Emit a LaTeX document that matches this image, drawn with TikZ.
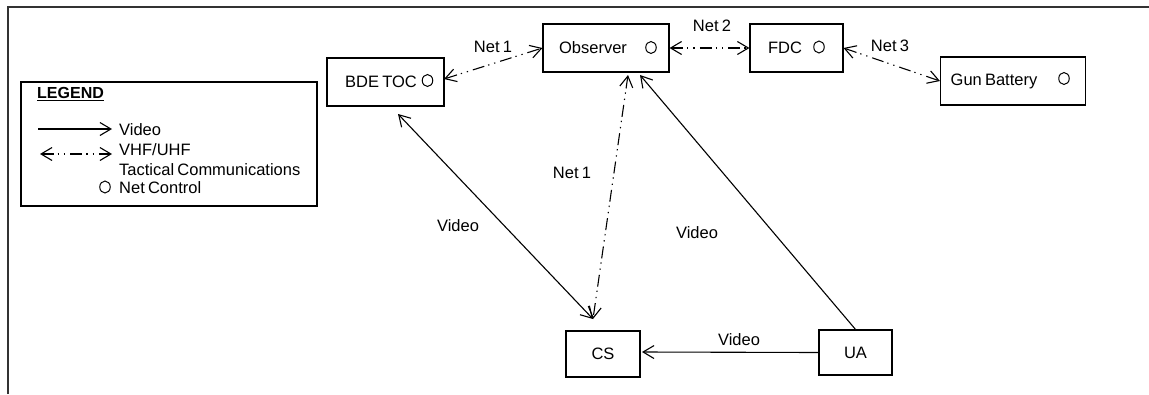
\documentclass[tikz,border=0pt]{standalone}
\usepackage{fontspec}
\setmainfont{Liberation Sans}
\usetikzlibrary{arrows.meta,shapes.geometric}
\newcommand\diagfont{\fontsize{16.5}{19}\selectfont}
\newcommand\tightword{\spaceskip=3.2pt plus 1pt minus 1pt\relax}
\begin{document}
\begin{tikzpicture}[x=1pt,y=-1pt,
  font=\diagfont,
  box/.style={draw,line width=1.1pt,inner sep=0pt},
  txt/.style={inner sep=0pt,execute at begin node=\tightword},
  nc/.style={draw,ellipse,line width=1pt,minimum width=10.5pt,minimum height=12pt,inner sep=0pt},
  video/.style={line width=1.1pt},
  radio/.style={line width=1.1pt,dash pattern=on 12pt off 4pt on 1.3pt off 5pt on 1.3pt off 5pt},
  >={Straight Barb[length=11pt,width=13pt,line width=1.1pt]},
  frame/.style={line width=2pt,black!80}]
\useasboundingbox (0,0) rectangle (1149,394);
\fill[white] (0,0) rectangle (1149,394);

% outer frame (open on right and bottom)
\draw[frame] (7.5,394) -- (7.5,6.5) -- (1149,6.5);

% legend
\node[box,minimum width=296pt,minimum height=124pt] (legend) at (169,144) {};
\node[txt,anchor=west,font=\fontsize{16}{19}\selectfont\bfseries] (legT) at (37,94) {\underline{LEGEND}};
\coordinate (lv1) at (38,129);
\coordinate (lv2) at (112,129);
\draw[video,->] (lv1) -- (lv2);
\node[txt,anchor=west] (legVideo) at (119,130) {Video};
\coordinate (lr1) at (40,154);
\coordinate (lr2) at (112,154);
\draw[radio,<->] (lr1) -- (lr2);
\node[txt,anchor=west] (legVHF) at (119,150) {VHF/UHF};
\node[txt,anchor=west] (legTac) at (119,170) {Tactical Communications};
\node[nc] (legNC) at (105,187) {};
\node[txt,anchor=west] (legNet) at (119,188) {Net Control};

% stations
\node[box,minimum width=117pt,minimum height=48pt] (bde) at (385.5,82) {};
\node[txt] (bdeT) at (381,82) {BDE TOC};
\node[nc] (bdeC) at (427.5,80.5) {};

\node[box,minimum width=126pt,minimum height=48pt] (obs) at (606,48) {};
\node[txt] (obsT) at (593,48) {Observer};
\node[nc] (obsC) at (651,47.5) {};

\node[box,minimum width=93pt,minimum height=48pt] (fdc) at (796.5,48) {};
\node[txt] (fdcT) at (785,48) {FDC};
\node[nc] (fdcC) at (819,47) {};

\node[box,minimum width=145pt,minimum height=48pt] (gun) at (1013,81) {};
\node[txt] (gunT) at (994,81) {Gun Battery};
\node[nc] (gunC) at (1064,78.5) {};

\node[box,minimum width=74pt,minimum height=46pt] (cs) at (603,354) {CS};
\node[box,minimum width=73pt,minimum height=45pt] (ua) at (855.5,352.5) {UA};

% connector end points near the boxes
\coordinate (bdeE) at (444,79);
\coordinate (bdeB) at (398,114);
\coordinate (obsB1) at (628,75);
\coordinate (obsB2) at (640,75);
\coordinate (csTop) at (593,319);
\coordinate (csE) at (642,352);
\coordinate (uaTop) at (856,330);

% radio nets
\draw[radio,<->] (bdeE) -- (obs.west);
\node[txt] (n1a) at (493,47) {Net 1};
\draw[radio,<->] (obs.east) -- (fdc.west);
\node[txt] (n2) at (712,26) {Net 2};
\draw[radio,<->] (fdc.east) -- (gun.west);
\node[txt] (n3) at (890,46) {Net 3};
\draw[radio,<->] (obsB1) -- (csTop);
\node[txt] (n1b) at (572,173) {Net 1};

% video links
\draw[video,<->] (bdeB) -- (csTop);
\node[txt] (v1) at (458,226) {Video};
\draw[video,->] (uaTop) -- (obsB2);
\node[txt] (v2) at (697,233) {Video};
\draw[video,->] (ua.west) -- (csE);
\node[txt] (v3) at (739,340) {Video};
\end{tikzpicture}
\end{document}
